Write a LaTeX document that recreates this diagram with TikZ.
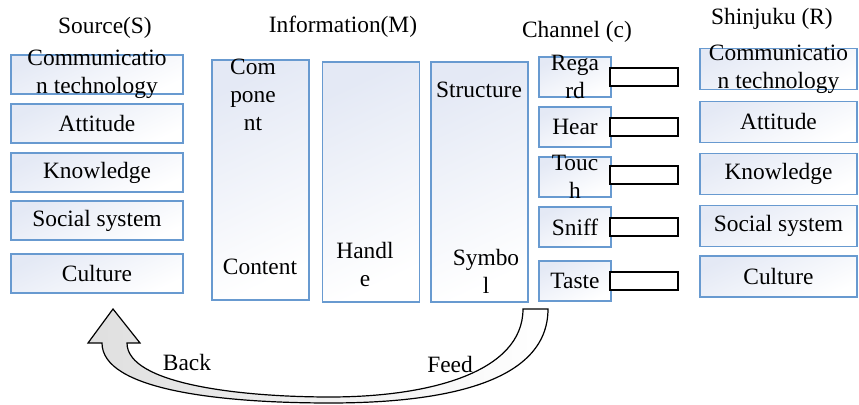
\documentclass[tikz,border=0pt]{standalone}
\usepackage{fontspec}
\setmainfont{Liberation Serif}
\usetikzlibrary{positioning}
\definecolor{boxline}{RGB}{104,154,208}
\definecolor{boxtop}{RGB}{228,233,245}

\begin{document}
\begin{tikzpicture}[x=0.5pt, y=-0.5pt, font=\fontsize{11.7}{14}\selectfont,
    box/.style={draw=boxline, line width=0.8pt, top color=boxtop, bottom color=white, shading angle=25, inner sep=0pt},
    sidebox/.style={box, minimum width=86pt, minimum height=19.5pt},
    rbox/.style={box, minimum width=78.5pt, minimum height=20.5pt},
    tallbox/.style={box, minimum width=48.5pt, minimum height=120pt},
    chbox/.style={box, minimum width=36pt, minimum height=20pt},
    slot/.style={draw=black, fill=white, line width=0.6pt, minimum width=34pt, minimum height=9pt, inner sep=0pt},
    txt/.style={align=center, inner sep=0pt}]
    \useasboundingbox (0,0) rectangle (859,405);

    % titles
    \node[txt] (tS) at (105,28) {Source(S)};
    \node[txt] (tM) at (343,27) {Information(M)};
    \node[txt] (tC) at (577,32) {Channel (c)};
    \node[txt] (tR) at (772,19) {Shinjuku (R)};

    % source
    \node[sidebox, label={[txt]center:Communicatio\\n technology}] (s1) at (97,74.5) {};
    \node[sidebox, label={[txt]center:Attitude}] (s2) at (97,123.5) {};
    \node[sidebox, label={[txt]center:Knowledge}] (s3) at (97,172.5) {};
    \node[sidebox, label={[txt]center:Social system}] (s4) at (97,220.5) {};
    \node[sidebox, label={[txt]center:Culture}] (s5) at (97,273.5) {};

    % information
    \node[tallbox] (m1) at (260.5,180) {};
    \node[tallbox] (m2) at (371,182) {};
    \node[tallbox] (m3) at (479.5,182) {};
    \node[txt] (m1a) at (253,95) {Com\\pone\\nt};
    \node[txt] (m1b) at (260,267) {Content};
    \node[txt] (m2a) at (365,265) {Handl\\e};
    \node[txt] (m3a) at (479,90) {Structure};
    \node[txt] (m3b) at (486,271) {Symbo\\l};

    % channel
    \node[chbox, label={[txt]center:Rega\\rd}] (c1) at (575,77) {};
    \node[chbox, label={[txt]center:Hear}] (c2) at (575,127) {};
    \node[chbox, label={[txt]center:Touc\\h}] (c3) at (575,177) {};
    \node[chbox, label={[txt]center:Sniff}] (c4) at (575,227) {};
    \node[chbox, label={[txt]center:Taste}] (c5) at (575,281) {};
    \node[slot] (k1) at (644,77) {};
    \node[slot] (k2) at (644,127) {};
    \node[slot] (k3) at (644,175) {};
    \node[slot] (k4) at (644,227) {};
    \node[slot] (k5) at (644,281) {};

    % receiver
    \node[rbox, label={[txt]center:Communicatio\\n technology}] (r1) at (778.5,69) {};
    \node[rbox, label={[txt]center:Attitude}] (r2) at (778.5,122) {};
    \node[rbox, label={[txt]center:Knowledge}] (r3) at (778.5,174) {};
    \node[rbox, label={[txt]center:Social system}] (r4) at (778.5,226) {};
    \node[rbox, label={[txt]center:Culture}] (r5) at (778.5,276.5) {};

    % feedback arrow
    \draw[line width=0.6pt, left color=gray!25, right color=white]
        (127,343) .. controls (127,384) and (240,397) .. (330,397)
        .. controls (430,397) and (523,372) .. (523,309)
        -- (548,309)
        .. controls (548,384) and (440,403) .. (330,403)
        .. controls (220,403) and (102,390) .. (102,343)
        -- (88,343) -- (113,309) -- (140,343) -- cycle;
    \node[txt] (back) at (187,363) {Back};
    \node[txt] (feed) at (450,365) {Feed};
\end{tikzpicture}
\end{document}
